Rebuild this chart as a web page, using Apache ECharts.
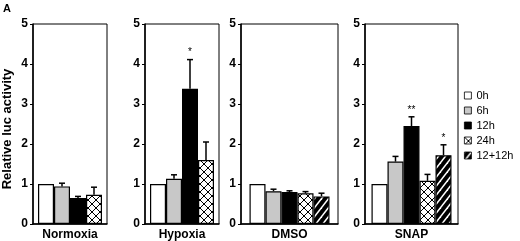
<!DOCTYPE html>
<html>
<head>
<meta charset="utf-8">
<script src="https://cdn.jsdelivr.net/npm/echarts@6/dist/echarts.min.js"></script>
<style>
  html, body { margin: 0; padding: 0; background: #fff; }
  #chart { width: 520px; height: 241px; }
</style>
</head>
<body>
<div id="chart"></div>
<script>
// treatment groups and time points
const groups = ['Normoxia', 'Hypoxia', 'DMSO', 'SNAP']
const times = ['0h', '6h', '12h', '24h', '12+12h']

// mean relative luc activity per group (null = not measured)
const mean0h   = [1.00, 1.00, 1.00, 1.00]
const mean6h   = [0.94, 1.13, 0.82, 1.56]
const mean12h  = [0.65, 3.38, 0.80, 2.45]
const mean24h  = [0.73, 1.60, 0.77, 1.08]
const mean1212 = [null, null, 0.69, 1.72]

// upper error (SE)
const err0h   = [0, 0, 0, 0]
const err6h   = [0.08, 0.10, 0.05, 0.13]
const err12h  = [0.04, 0.73, 0.03, 0.23]
const err24h  = [0.19, 0.45, 0.04, 0.16]
const err1212 = [null, null, 0.08, 0.26]

// significance marks
const stars12h  = ['', '*', '', '**']
const stars1212 = ['', '', '', '*']

const yTicks = [0, 1, 2, 3, 4, 5]

const means = [mean0h, mean6h, mean12h, mean24h, mean1212]
const errs = [err0h, err6h, err12h, err24h, err1212]
const stars = [null, null, stars12h, null, stars1212]

const FONT = '"Liberation Sans", Arial, Helvetica, sans-serif'
const BAR_W = 16

function hatchPattern() {
  const c = document.createElement('canvas')
  c.width = 8
  c.height = 8
  const g = c.getContext('2d')
  g.fillStyle = '#fff'
  g.fillRect(0, 0, 8, 8)
  g.strokeStyle = '#000'
  g.lineWidth = 1
  for (const dx of [-8, 0, 8]) {
    g.beginPath()
    g.moveTo(dx, 0); g.lineTo(dx + 8, 8)
    g.moveTo(dx, 8); g.lineTo(dx + 8, 0)
    g.stroke()
  }
  return c
}

function stripePattern() {
  const w = 7, h = 9
  const c = document.createElement('canvas')
  c.width = w
  c.height = h
  const g = c.getContext('2d')
  g.fillStyle = '#000'
  g.fillRect(0, 0, w, h)
  g.strokeStyle = '#fff'
  g.lineWidth = 1.5
  for (const dy of [-h, 0, h]) {
    g.beginPath()
    g.moveTo(-w, 2 * h + dy)
    g.lineTo(2 * w, -h + dy)
    g.stroke()
  }
  return c
}

const fills = [
  '#ffffff',
  '#c8c8c8',
  '#000000',
  { image: hatchPattern(), repeat: 'repeat' },
  { image: stripePattern(), repeat: 'repeat' }
]

// panel frames
const panels = [
  { left: 32, width: 75 },
  { left: 145, width: 74 },
  { left: 241, width: 97 },
  { left: 365, width: 93 }
]

const grids = panels.map(p => ({
  left: p.left, width: p.width, top: 24, height: 200,
  show: true, borderColor: '#000', borderWidth: 1
}))

const xAxes = groups.map((g, i) => ({
  type: 'category', gridIndex: i, data: [g],
  axisLine: { lineStyle: { color: '#000', width: 1.5 } },
  axisTick: { show: false },
  axisLabel: { color: '#000', fontFamily: FONT, fontWeight: 'bold', fontSize: 12, margin: 5 }
}))

const yAxes = groups.map((g, i) => ({
  type: 'value', gridIndex: i, min: yTicks[0], max: yTicks[yTicks.length - 1], interval: 1,
  axisLine: { show: true, lineStyle: { color: '#000', width: 1.5 } },
  axisTick: { show: true, length: 3, lineStyle: { color: '#000', width: 1 } },
  axisLabel: { color: '#000', fontFamily: FONT, fontWeight: 'bold', fontSize: 12, margin: 5 },
  splitLine: { show: false },
  name: i === 0 ? 'Relative luc activity' : '',
  nameLocation: 'middle', nameRotate: 90, nameGap: 19,
  nameTextStyle: { color: '#000', fontFamily: FONT, fontWeight: 'bold', fontSize: 13, padding: [0, 10, 0, 0] }
}))

const series = []
times.forEach((t, k) => {
  groups.forEach((g, i) => {
    if (means[k][i] == null) return
    series.push({
      type: 'bar', name: t, xAxisIndex: i, yAxisIndex: i,
      barWidth: BAR_W, barGap: '0%',
      data: [means[k][i]],
      itemStyle: { color: fills[k], borderColor: '#000', borderWidth: 1.2 },
      emphasis: { disabled: true }
    })
  })
})

groups.forEach((g, i) => {
  const ks = times.map((t, k) => k).filter(k => means[k][i] != null)
  const n = ks.length
  const items = ks.map((k, j) => ({
    value: [0, means[k][i], means[k][i] + errs[k][i], j, n],
    star: stars[k] ? stars[k][i] : ''
  }))
  series.push({
    type: 'custom', xAxisIndex: i, yAxisIndex: i, z: 5,
    encode: { x: 0, y: [1, 2] },
    data: items.map(d => d.value),
    silent: true,
    renderItem(params, api) {
      const j = api.value(3)
      const base = api.coord([api.value(0), api.value(1)])
      const top = api.coord([api.value(0), api.value(2)])
      const x = base[0] + (j - (api.value(4) - 1) / 2) * BAR_W
      const children = []
      if (api.value(2) > api.value(1)) {
        children.push({
          type: 'line', shape: { x1: x, y1: base[1], x2: x, y2: top[1] },
          style: { stroke: '#000', lineWidth: 1.5 }
        }, {
          type: 'line', shape: { x1: x - 3, y1: top[1], x2: x + 3, y2: top[1] },
          style: { stroke: '#000', lineWidth: 1.5 }
        })
      }
      const s = items[params.dataIndex].star
      if (s) {
        children.push({
          type: 'text',
          style: {
            x: x, y: top[1] - 2, text: s, fill: '#000',
            font: '10px ' + FONT, align: 'center', verticalAlign: 'bottom'
          }
        })
      }
      return { type: 'group', children }
    }
  })
})

const chart = echarts.init(document.getElementById('chart'))
chart.setOption({
  animation: false,
  backgroundColor: '#fff',
  grid: grids,
  xAxis: xAxes,
  yAxis: yAxes,
  legend: {
    data: times,
    orient: 'vertical',
    left: 459, top: 85,
    itemWidth: 7, itemHeight: 7, itemGap: 4,
    icon: 'rect',
    selectedMode: false,
    itemStyle: { borderWidth: 0.8 },
    textStyle: { color: '#000', fontFamily: FONT, fontSize: 11 }
  },
  graphic: [{
    type: 'text', left: 3, top: 3,
    style: { text: 'A', fill: '#000', font: 'bold 11px ' + FONT }
  }],
  series
})
</script>
</body>
</html>
